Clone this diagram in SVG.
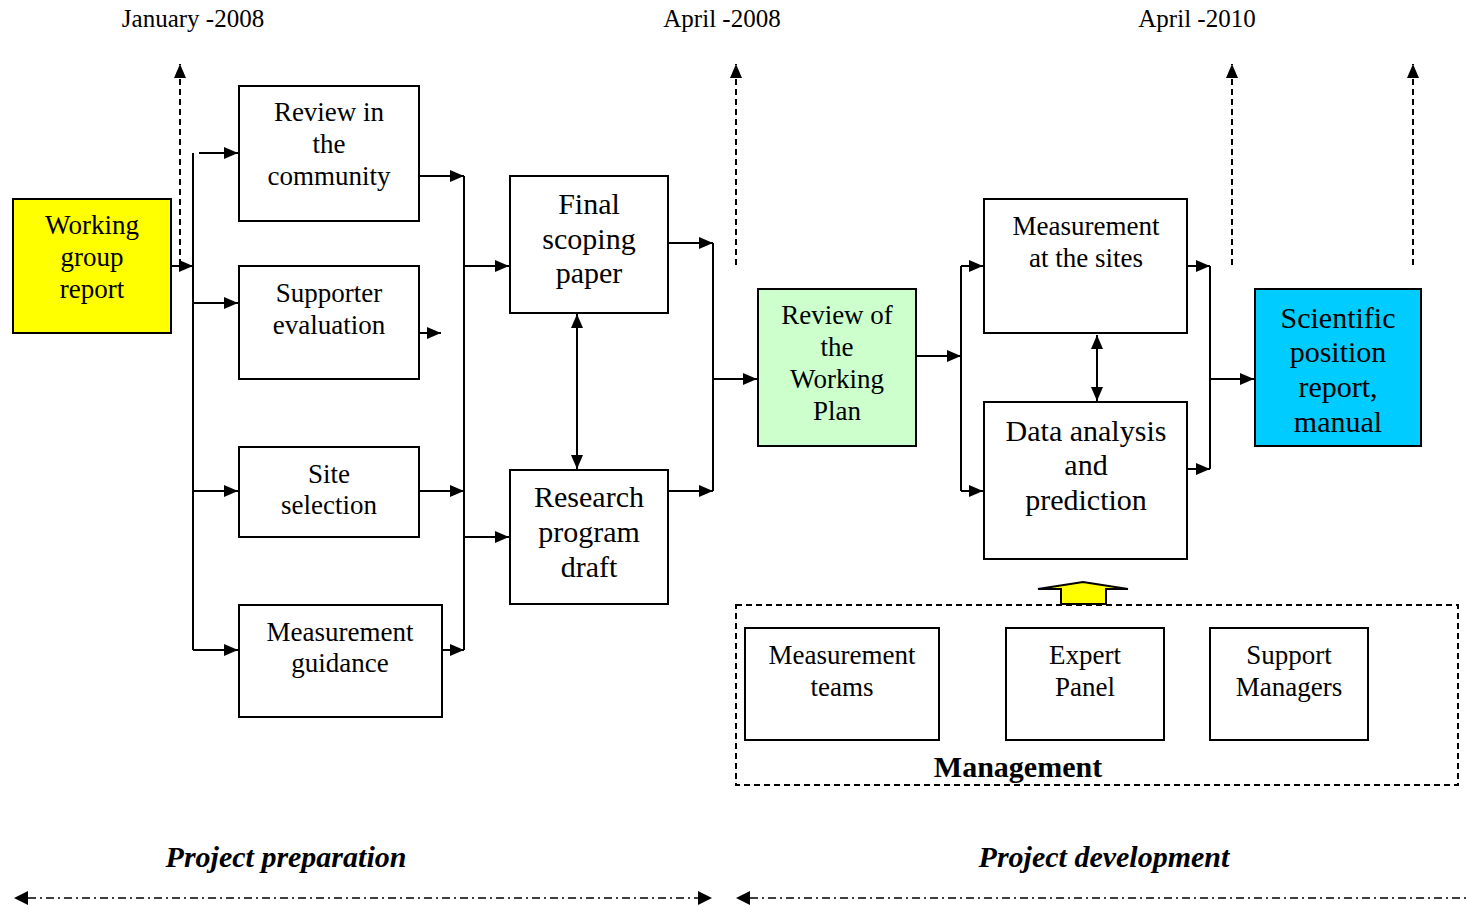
<svg xmlns="http://www.w3.org/2000/svg" width="1466" height="906" viewBox="0 0 1466 906">
<style>
text{font-family:'Liberation Serif',serif;fill:#000;text-anchor:middle}
.t25{font-size:25px}.t27{font-size:27px}.t30{font-size:30px}
.box{stroke:#000;stroke-width:2;fill:#fff}
.ln{stroke:#000;stroke-width:2;fill:none}
.dsh{stroke:#000;stroke-width:2;fill:none;stroke-dasharray:6 4}
.dd{stroke:#000;stroke-width:1.6;fill:none;stroke-dasharray:8 4 2 4}
</style>
<defs>
<marker id="ah" viewBox="0 0 14 12" refX="14" refY="6" markerWidth="14" markerHeight="12" markerUnits="userSpaceOnUse" orient="auto-start-reverse"><path d="M0,0 L14,6 L0,12 z" fill="#000"/></marker>
</defs>
<g id="timeline-labels">
<text class="t25" x="193" y="27">January -2008</text>
<text class="t25" x="722" y="27">April -2008</text>
<text class="t25" x="1197" y="27">April -2010</text>
</g>
<g id="connectors">
<line class="dsh" x1="180" y1="265" x2="180" y2="64" marker-end="url(#ah)"/>
<line class="dsh" x1="736" y1="265" x2="736" y2="64" marker-end="url(#ah)"/>
<line class="dsh" x1="1232" y1="265" x2="1232" y2="64" marker-end="url(#ah)"/>
<line class="dsh" x1="1413" y1="265" x2="1413" y2="64" marker-end="url(#ah)"/>
<line class="ln" x1="171" y1="266" x2="193" y2="266" marker-end="url(#ah)"/>
<line class="ln" x1="193" y1="153" x2="193" y2="650"/>
<line class="ln" x1="199" y1="153" x2="238" y2="153" marker-end="url(#ah)"/>
<line class="ln" x1="193" y1="303" x2="238" y2="303" marker-end="url(#ah)"/>
<line class="ln" x1="193" y1="491" x2="238" y2="491" marker-end="url(#ah)"/>
<line class="ln" x1="193" y1="650" x2="238" y2="650" marker-end="url(#ah)"/>
<line class="ln" x1="419" y1="176" x2="464" y2="176" marker-end="url(#ah)"/>
<line class="ln" x1="419" y1="333" x2="441" y2="333" marker-end="url(#ah)"/>
<line class="ln" x1="419" y1="491" x2="464" y2="491" marker-end="url(#ah)"/>
<line class="ln" x1="442" y1="650" x2="464" y2="650" marker-end="url(#ah)"/>
<line class="ln" x1="464" y1="176" x2="464" y2="650"/>
<line class="ln" x1="464" y1="266" x2="509" y2="266" marker-end="url(#ah)"/>
<line class="ln" x1="464" y1="537" x2="509" y2="537" marker-end="url(#ah)"/>
<line class="ln" x1="577" y1="314" x2="577" y2="469" marker-start="url(#ah)" marker-end="url(#ah)"/>
<line class="ln" x1="668" y1="243" x2="713" y2="243" marker-end="url(#ah)"/>
<line class="ln" x1="668" y1="491" x2="713" y2="491" marker-end="url(#ah)"/>
<line class="ln" x1="713" y1="243" x2="713" y2="491"/>
<line class="ln" x1="713" y1="379" x2="757" y2="379" marker-end="url(#ah)"/>
<line class="ln" x1="916" y1="356" x2="961" y2="356" marker-end="url(#ah)"/>
<line class="ln" x1="961" y1="266" x2="961" y2="491"/>
<line class="ln" x1="961" y1="266" x2="983" y2="266" marker-end="url(#ah)"/>
<line class="ln" x1="961" y1="491" x2="983" y2="491" marker-end="url(#ah)"/>
<line class="ln" x1="1097" y1="335" x2="1097" y2="401" marker-start="url(#ah)" marker-end="url(#ah)"/>
<line class="ln" x1="1187" y1="266" x2="1210" y2="266" marker-end="url(#ah)"/>
<line class="ln" x1="1187" y1="469" x2="1210" y2="469" marker-end="url(#ah)"/>
<line class="ln" x1="1210" y1="266" x2="1210" y2="469"/>
<line class="ln" x1="1210" y1="379" x2="1254" y2="379" marker-end="url(#ah)"/>
<polygon points="1061,604 1061,589 1038,589 1083,582 1128,589 1106,589 1106,604" fill="#FFFF00" stroke="#000" stroke-width="2"/>
<line class="dd" x1="28" y1="898" x2="698" y2="898"/>
<path d="M14,898 L28,891 L28,905 z M712,898 L698,891 L698,905 z" fill="#000"/>
<line class="dd" x1="750" y1="898" x2="1466" y2="898"/>
<path d="M736,898 L750,891 L750,905 z" fill="#000"/>
</g>
<g id="working-group-report">
<rect class="box" x="13" y="199" width="158" height="134" style="fill:#FFFF00"/>
<text class="t27" x="92" y="234">Working</text>
<text class="t27" x="92" y="266">group</text>
<text class="t27" x="92" y="298">report</text>
</g>
<g id="review-community">
<rect class="box" x="239" y="86" width="180" height="135"/>
<text class="t27" x="329" y="121">Review in</text>
<text class="t27" x="329" y="153">the</text>
<text class="t27" x="329" y="185">community</text>
</g>
<g id="supporter-evaluation">
<rect class="box" x="239" y="266" width="180" height="113"/>
<text class="t27" x="329" y="302">Supporter</text>
<text class="t27" x="329" y="334">evaluation</text>
</g>
<g id="site-selection">
<rect class="box" x="239" y="447" width="180" height="90"/>
<text class="t27" x="329" y="483">Site</text>
<text class="t27" x="329" y="514">selection</text>
</g>
<g id="measurement-guidance">
<rect class="box" x="239" y="605" width="203" height="112"/>
<text class="t27" x="340" y="641">Measurement</text>
<text class="t27" x="340" y="672">guidance</text>
</g>
<g id="final-scoping-paper">
<rect class="box" x="510" y="176" width="158" height="137"/>
<text class="t30" x="589" y="214">Final</text>
<text class="t30" x="589" y="249">scoping</text>
<text class="t30" x="589" y="283">paper</text>
</g>
<g id="research-program-draft">
<rect class="box" x="510" y="470" width="158" height="134"/>
<text class="t30" x="589" y="507">Research</text>
<text class="t30" x="589" y="542">program</text>
<text class="t30" x="589" y="577">draft</text>
</g>
<g id="review-working-plan">
<rect class="box" x="758" y="289" width="158" height="157" style="fill:#CCFFCC"/>
<text class="t27" x="837" y="324">Review of</text>
<text class="t27" x="837" y="356">the</text>
<text class="t27" x="837" y="388">Working</text>
<text class="t27" x="837" y="420">Plan</text>
</g>
<g id="measurement-sites">
<rect class="box" x="984" y="199" width="203" height="134"/>
<text class="t27" x="1086" y="235">Measurement</text>
<text class="t27" x="1086" y="267">at the sites</text>
</g>
<g id="data-analysis">
<rect class="box" x="984" y="402" width="203" height="157"/>
<text class="t30" x="1086" y="441">Data analysis</text>
<text class="t30" x="1086" y="475">and</text>
<text class="t30" x="1086" y="510">prediction</text>
</g>
<g id="scientific-report">
<rect class="box" x="1255" y="289" width="166" height="157" style="fill:#00CCFF"/>
<text class="t30" x="1338" y="328">Scientific</text>
<text class="t30" x="1338" y="362">position</text>
<text class="t30" x="1338" y="397">report,</text>
<text class="t30" x="1338" y="432">manual</text>
</g>
<g id="management">
<rect x="736" y="605" width="722" height="180" class="dsh"/>
<text class="t30" x="1018" y="777" font-weight="bold">Management</text>
</g>
<g id="measurement-teams">
<rect class="box" x="745" y="628" width="194" height="112"/>
<text class="t27" x="842" y="664">Measurement</text>
<text class="t27" x="842" y="696">teams</text>
</g>
<g id="expert-panel">
<rect class="box" x="1006" y="628" width="158" height="112"/>
<text class="t27" x="1085" y="664">Expert</text>
<text class="t27" x="1085" y="696">Panel</text>
</g>
<g id="support-managers">
<rect class="box" x="1210" y="628" width="158" height="112"/>
<text class="t27" x="1289" y="664">Support</text>
<text class="t27" x="1289" y="696">Managers</text>
</g>
<g id="phase-labels">
<text class="t30" x="286" y="867" font-weight="bold" font-style="italic">Project preparation</text>
<text class="t30" x="1104" y="867" font-weight="bold" font-style="italic">Project development</text>
</g>
</svg>
